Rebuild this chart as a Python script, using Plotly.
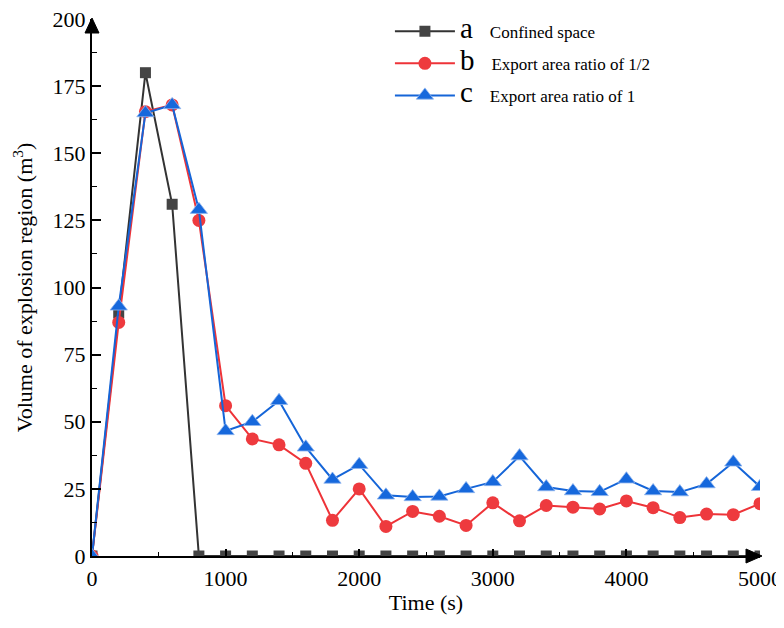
import plotly.graph_objects as go

time_s = [0, 200, 400, 600, 800, 1000, 1200, 1400, 1600, 1800, 2000, 2200, 2400, 2600,
          2800, 3000, 3200, 3400, 3600, 3800, 4000, 4200, 4400, 4600, 4800, 5000]

confined = [0, 90.5, 180, 131, 0, 0, 0, 0, 0, 0, 0, 0, 0, 0,
            0, 0, 0, 0, 0, 0, 0, 0, 0, 0, 0, 0]
ratio_half = [0, 87, 165.5, 168, 125, 56, 43.6, 41.4, 34.5, 13.3, 25, 11, 16.6, 14.8,
              11.4, 19.8, 13.1, 18.8, 18.2, 17.5, 20.5, 18, 14.3, 15.6, 15.4, 19.5]
ratio_one = [0, 93, 165, 168, 129, 46.6, 50, 57.8, 40.5, 28.5, 34, 22.6, 22, 22.2,
             25, 27.6, 37.2, 25.7, 24.2, 23.9, 28.6, 24.2, 23.8, 26.8, 34.9, 25.8]

letters = ["a", "b", "c"]
names = ["Confined space", "Export area ratio of 1/2", "Export area ratio of 1"]

FONT = "Liberation Serif, Times New Roman, serif"

def lname(letter, text):
    return ('<span style="font-size:29px">' + letter + '</span>'
            + '&#160;&#160;&#160;&#160;' + text)

fig = go.Figure()
fig.add_trace(go.Scatter(
    x=time_s, y=confined, mode="lines+markers", name=lname(letters[0], names[0]),
    legendgroup="a",
    line=dict(color="#333333", width=2),
    marker=dict(symbol="square", size=11, color="#444444"),
))
fig.add_trace(go.Scatter(
    x=time_s, y=ratio_half, mode="lines+markers", name=lname(letters[1], names[1]),
    legendgroup="b",
    line=dict(color="#ee3338", width=2),
    marker=dict(symbol="circle", size=13, color="#ee3a3e"),
))
fig.add_trace(go.Scatter(
    x=time_s, y=ratio_one, mode="lines+markers", name=lname(letters[2], names[2]),
    legendgroup="c",
    line=dict(color="#1565d8", width=2),
    marker=dict(symbol="triangle-up", size=15, color="#1668dc",
                line=dict(color="#8fb5ef", width=0.8)),
))

fig.update_layout(
    width=784, height=628,
    margin=dict(l=84, r=32, t=11, b=80, autoexpand=False),
    paper_bgcolor="white", plot_bgcolor="white",
    font=dict(family=FONT, color="black"),
    showlegend=True,
    legend=dict(
        x=0.446, y=1.01, xanchor="left", yanchor="top",
        bgcolor="rgba(0,0,0,0)", font=dict(size=17, family=FONT),
        itemwidth=60, tracegroupgap=7,
    ),
    xaxis=dict(
        range=[0, 5000], showline=True, linecolor="black", linewidth=2,
        ticks="inside", ticklen=7, tickwidth=1.5, tickcolor="black",
        dtick=1000, tick0=0, automargin=False, ticklabelstandoff=2,
        ticklabeloverflow="allow",
        minor=dict(dtick=500, ticks="inside", ticklen=4, tickwidth=1.2, tickcolor="black"),
        showgrid=False, zeroline=False,
        tickfont=dict(size=22, family=FONT),
        title=dict(text="Time (s)", font=dict(size=22, family=FONT), standoff=4),
    ),
    yaxis=dict(
        range=[0, 200], showline=True, linecolor="black", linewidth=2,
        ticks="inside", ticklen=9, tickwidth=1.5, tickcolor="black",
        dtick=25, tick0=0, automargin=False, ticklabeloverflow="allow",
        minor=dict(dtick=12.5, ticks="inside", ticklen=5, tickwidth=1.2, tickcolor="black"),
        showgrid=False, zeroline=False,
        tickfont=dict(size=22, family=FONT),
        title=dict(text="Volume of explosion region (m<sup>3</sup>)",
                   font=dict(size=22, family=FONT), standoff=14),
    ),
    shapes=[
        dict(type="path", xref="paper", yref="paper", xsizemode="pixel", ysizemode="pixel",
             xanchor=0, yanchor=1, path="M -7,-14 L 7,-14 L 0,1 Z",
             fillcolor="black", line=dict(color="black", width=1)),
        dict(type="path", xref="paper", yref="paper", xsizemode="pixel", ysizemode="pixel",
             xanchor=1, yanchor=0, path="M -14,7 L -14,-7 L 2,0 Z",
             fillcolor="black", line=dict(color="black", width=1)),
    ],
)

fig.write_html("out.html")
